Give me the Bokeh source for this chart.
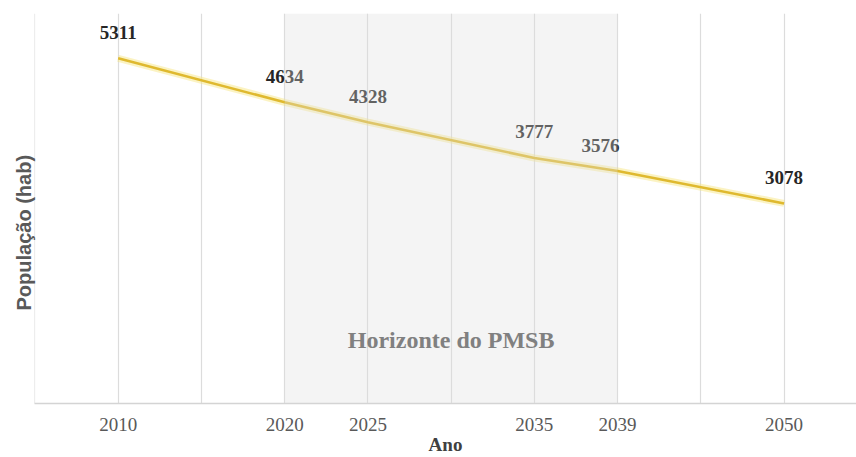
from bokeh.plotting import figure
from bokeh.models import (Range1d, FixedTicker, Grid, BoxAnnotation, Label,
                          Title, ColumnDataSource)
from bokeh.core.properties import value
from bokeh.embed import file_html
from bokeh.resources import INLINE

# Evenly spaced year slots along the x axis (one grid line each)
slots = [2010, 2015, 2020, 2025, 2030, 2035, 2039, 2045, 2050]
# Projected population
years = [2010, 2020, 2025, 2035, 2039, 2050]
population = [5311, 4634, 4328, 3777, 3576, 3078]
# Slots that carry a year label on the axis
labelled_years = [2010, 2020, 2025, 2035, 2039, 2050]
# Planning horizon
horizon_start, horizon_end = 2020, 2039
horizon_text = "Horizonte do PMSB"

SERIF = "Liberation Serif"

xs = [slots.index(y) for y in years]
src = ColumnDataSource(dict(
    x=xs, y=population, label=[str(v) for v in population],
    dx=[-17 if y == 2039 else 0 for y in years],
))

p = figure(width=856, height=457, output_backend="svg", toolbar_location=None,
           x_range=Range1d(-1.005, 8.87), y_range=Range1d(0, 6000),
           min_border_left=34, min_border_right=0, min_border_top=13,
           min_border_bottom=0)
p.outline_line_color = None
p.background_fill_color = "white"
p.border_fill_color = "white"

# grid: one vertical line per slot plus the left edge
p.xgrid.visible = False
p.ygrid.visible = False
p.add_layout(Grid(dimension=0, ticker=FixedTicker(ticks=list(range(-1, len(slots)))),
                  grid_line_color="#dcdcdc", grid_line_width=1.2))

p.yaxis.visible = False
ax = p.xaxis[0]
ax.ticker = FixedTicker(ticks=[slots.index(y) for y in labelled_years])
ax.major_label_overrides = {slots.index(y): str(y) for y in labelled_years}
ax.major_tick_line_color = None
ax.minor_tick_line_color = None
ax.axis_line_color = "#d4d4d4"
ax.axis_line_width = 1.5
ax.major_label_text_font = SERIF
ax.major_label_text_font_size = "19px"
ax.major_label_text_color = "#595959"
ax.major_label_standoff = 8
ax.axis_label = "Ano"
ax.axis_label_text_font = SERIF
ax.axis_label_text_font_size = "19px"
ax.axis_label_text_font_style = "bold"
ax.axis_label_text_color = "#404040"
ax.axis_label_standoff = 0

# y-axis title, starting a little above the bottom of the frame
p.add_layout(Title(text="População (hab)", align="left", offset=93,
                   text_font="Liberation Sans", text_font_size="20px",
                   text_font_style="bold", text_color="#595959",
                   standoff=0), "left")

# population curve with a soft glow
p.line("x", "y", source=src, line_color="#f7e57a", line_width=7, line_alpha=0.45)
p.line("x", "y", source=src, line_color="#dfb92f", line_width=2.6)

p.text("x", "y", text="label", source=src, x_offset="dx", y_offset=-26,
       text_font=value(SERIF), text_font_size="19px", text_font_style="bold",
       text_color="#262626", text_align="center", text_baseline="middle")

# shaded planning horizon, drawn over the data
p.add_layout(BoxAnnotation(left=slots.index(horizon_start), right=slots.index(horizon_end),
                           fill_color="#dddddd", fill_alpha=0.33, line_color=None))
p.add_layout(Label(x=(slots.index(horizon_start) + slots.index(horizon_end)) / 2, y=970,
                   text=horizon_text, text_font=SERIF, text_font_size="24px",
                   text_font_style="bold", text_color="#808080",
                   text_align="center", text_baseline="middle", level="overlay"))

open("out.html", "w").write(file_html(p, INLINE))
